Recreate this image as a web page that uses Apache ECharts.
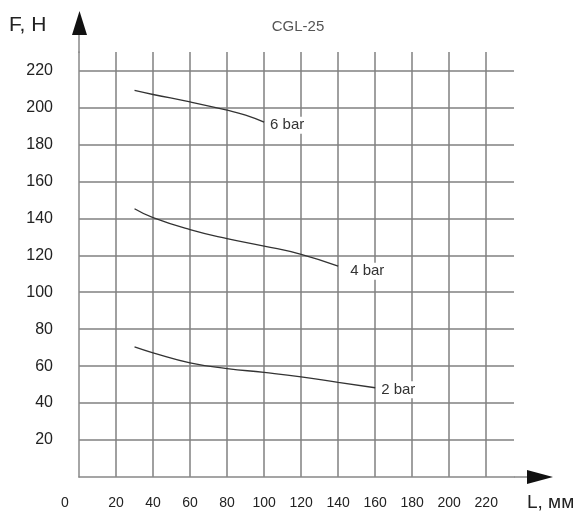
<!DOCTYPE html>
<html>
<head>
<meta charset="utf-8">
<script src="https://cdn.jsdelivr.net/npm/echarts@6/dist/echarts.min.js"></script>
<style>html,body{margin:0;padding:0;background:#fff}#c{width:581px;height:515px}</style>
</head>
<body>
<div id="c"></div>
<script>
const title = 'CGL-25';
const yName = 'F, H';
const xName = 'L, мм';
const names = ['6 bar', '4 bar', '2 bar'];
const x6 = [30, 40, 60, 80, 90, 100];
const y6 = [209.2, 207, 203, 198.5, 195.8, 192];
const x4 = [30, 40, 60, 80, 100, 120, 140];
const y4 = [145.2, 140.4, 133.9, 129.0, 125.0, 120.5, 114.1];
const x2 = [30, 40, 60, 80, 100, 120, 140, 160];
const y2 = [70.4, 67.2, 61.8, 58.7, 56.6, 54.2, 51.2, 48.3];

const zip = (a, b) => a.map((v, i) => [v, b[i]]);
const sans = "'Liberation Sans', Arial, sans-serif";

const chart = echarts.init(document.getElementById('c'));
const labelOffsets = [[2, 3], [8, 5], [2, 2]];
const datasets = [zip(x6, y6), zip(x4, y4), zip(x2, y2)];

chart.setOption({
  animation: false,
  backgroundColor: '#fff',
  title: {
    text: title, left: 293, top: 14, textAlign: 'center',
    textStyle: { fontFamily: sans, fontSize: 15, fontWeight: 'normal', color: '#555' }
  },
  grid: { left: 79, top: 52, right: 67, bottom: 38 },
  xAxis: {
    type: 'value', min: 0, max: 235, interval: 20,
    axisLine: { lineStyle: { color: '#888', width: 1.5 } },
    axisTick: { show: false },
    splitLine: { show: true, showMinLine: false, showMaxLine: false, lineStyle: { color: '#808080', width: 1.5 } },
    axisLabel: {
      showMaxLabel: false, margin: 19, fontSize: 14, color: '#222', fontFamily: sans,
      formatter: v => v === 0 ? '{z|0}' : String(v),
      rich: { z: { padding: [0, 28, 0, 0], fontSize: 14, color: '#222', fontFamily: sans } }
    }
  },
  yAxis: {
    type: 'value', min: 0, max: 230, interval: 20,
    axisLine: { show: true, lineStyle: { color: '#888', width: 1.5 } },
    axisTick: { show: false },
    splitLine: { show: true, showMinLine: false, showMaxLine: false, lineStyle: { color: '#808080', width: 1.5 } },
    axisLabel: { showMinLabel: false, showMaxLabel: false, margin: 26, fontSize: 16, color: '#222', fontFamily: sans }
  },
  graphic: [
    { type: 'line', shape: { x1: 514, y1: 477, x2: 530, y2: 477 }, style: { stroke: '#888', lineWidth: 1.5 } },
    { type: 'polygon', shape: { points: [[527, 470], [553, 477], [527, 484]] }, style: { fill: '#111' } },
    { type: 'line', shape: { x1: 79, y1: 53, x2: 79, y2: 32 }, style: { stroke: '#888', lineWidth: 1.5 } },
    { type: 'polygon', shape: { points: [[72, 35], [79.5, 11], [87, 35]] }, style: { fill: '#111' } },
    { type: 'text', left: 9, top: 15, style: { text: yName, fontSize: 21, fill: '#222', fontFamily: sans } },
    { type: 'text', left: 527, top: 493, style: { text: xName, fontSize: 19, fill: '#222', fontFamily: sans } }
  ],
  series: datasets.map((d, i) => ({
    type: 'line', name: names[i], data: d, smooth: true, symbol: 'none',
    lineStyle: { color: '#333', width: 1.3 },
    endLabel: {
      show: true, formatter: names[i], offset: labelOffsets[i], distance: 3,
      fontFamily: sans, fontSize: 15, color: '#333', backgroundColor: '#fff', padding: [1, 1]
    }
  }))
});
</script>
</body>
</html>
